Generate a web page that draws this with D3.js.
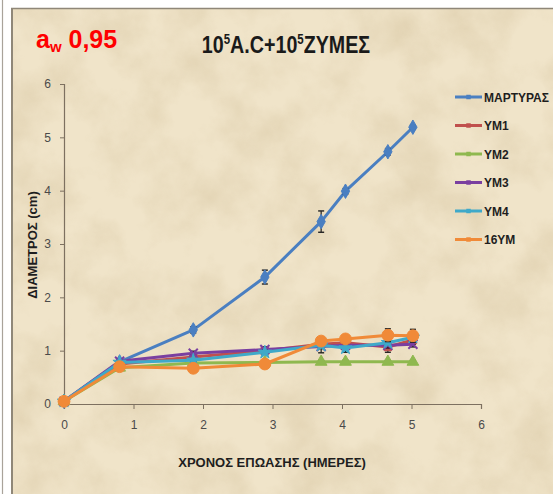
<!DOCTYPE html>
<html>
<head>
<meta charset="utf-8">
<script src="https://cdn.jsdelivr.net/npm/d3@7"></script>
<style>
  html, body { margin: 0; padding: 0; background: #fff; }
  svg { display: block; }
</style>
</head>
<body>
<svg id="chart" width="553" height="494"></svg>
<script>
// Incubation days at each measurement
const days = [0, 0.8, 1.86, 2.89, 3.7, 4.05, 4.66, 5.02];

// Colony diameter (cm) per treatment
const seriesNames = ["ΜΑΡΤΥΡΑΣ", "ΥΜ1", "ΥΜ2", "ΥΜ3", "ΥΜ4", "16ΥΜ"];
const martyras = [0.05, 0.79, 1.39, 2.38, 3.42, 3.99, 4.73, 5.19];
const ym1      = [0.05, 0.75, 0.88, 1.00, 1.12, 1.15, 1.07, 1.20];
const ym2      = [0.05, 0.68, 0.77, 0.78, 0.79, 0.79, 0.79, 0.79];
const ym3      = [0.05, 0.80, 0.95, 1.02, 1.08, 1.10, 1.10, 1.12];
const ym4      = [0.05, 0.78, 0.82, 0.97, 1.10, 1.05, 1.15, 1.25];
const ym16     = [0.05, 0.70, 0.67, 0.75, 1.18, 1.22, 1.29, 1.28];

// Standard error per point
const errMartyras = [0, 0.03, 0.06, 0.13, 0.20, 0.05, 0.06, 0.04];
const errYm1      = [0, 0.03, 0.03, 0.04, 0.05, 0.04, 0.10, 0.08];
const errYm2      = [0, 0.02, 0.02, 0.02, 0.03, 0.03, 0.03, 0.03];
const errYm3      = [0, 0.03, 0.04, 0.05, 0.12, 0.05, 0.05, 0.05];
const errYm4      = [0, 0.03, 0.03, 0.04, 0.06, 0.08, 0.05, 0.06];
const errYm16     = [0, 0.04, 0.03, 0.04, 0.05, 0.05, 0.12, 0.12];

const xTicks = [0, 1, 2, 3, 4, 5, 6];
const yTicks = [0, 1, 2, 3, 4, 5, 6];

const colors  = ["#4a7fc1", "#c0504d", "#8fb84f", "#7a3fa0", "#3fa9c9", "#f08a38"];
const markers = ["diamond", "square", "triangle", "cross", "star", "circle"];
const values  = [martyras, ym1, ym2, ym3, ym4, ym16];
const errors  = [errMartyras, errYm1, errYm2, errYm3, errYm4, errYm16];

const series = seriesNames.map((name, i) => ({
  name, color: colors[i], marker: markers[i],
  points: days.map((d, j) => ({ x: d, y: values[i][j], e: errors[i][j] }))
}));

const svg = d3.select("#chart");

// parchment background with soft mottling
const defs = svg.append("defs");
const f = defs.append("filter").attr("id", "parchment")
  .attr("x", 0).attr("y", 0).attr("width", "100%").attr("height", "100%");
f.append("feTurbulence").attr("type", "fractalNoise")
  .attr("baseFrequency", "0.018").attr("numOctaves", 5).attr("seed", 7).attr("result", "n");
f.append("feColorMatrix").attr("type", "matrix")
  .attr("values", "0 0 0 0 0.62  0 0 0 0 0.50  0 0 0 0 0.30  1.6 0 0 0 -0.62");

svg.append("rect").attr("x", 11).attr("y", 8).attr("width", 542).attr("height", 486)
  .attr("fill", "#f0e4c9");
svg.append("rect").attr("x", 11).attr("y", 8).attr("width", 542).attr("height", 486)
  .attr("filter", "url(#parchment)").attr("opacity", 0.5);

// frame edges
svg.append("line").attr("x1", 2.5).attr("x2", 2.5).attr("y1", 0).attr("y2", 494)
  .attr("stroke", "#a9a39a").attr("stroke-width", 1.2);
svg.append("line").attr("x1", 12).attr("x2", 12).attr("y1", 8).attr("y2", 494)
  .attr("stroke", "#8f8778").attr("stroke-width", 2);
svg.append("line").attr("x1", 11).attr("x2", 553).attr("y1", 8.5).attr("y2", 8.5)
  .attr("stroke", "#8f8778").attr("stroke-width", 1.5);

// scales
const x = d3.scaleLinear().domain([0, 6]).range([64, 481]);
const y = d3.scaleLinear().domain([0, 6]).range([404, 84]);

const axisColor = "#7d7060";
const tickFont = "Liberation Sans, Arial, sans-serif";

const xAxis = svg.append("g").attr("transform", "translate(0,404)")
  .call(d3.axisBottom(x).tickValues(xTicks).tickSize(5).tickPadding(11).tickFormat(d3.format("d")));
const yAxis = svg.append("g").attr("transform", "translate(64,0)")
  .call(d3.axisLeft(y).tickValues(yTicks).tickSize(4).tickPadding(9).tickFormat(d3.format("d")));
[xAxis, yAxis].forEach(g => {
  g.select(".domain").attr("stroke", axisColor).attr("stroke-width", 1.2);
  g.selectAll(".tick line").attr("stroke", axisColor);
  g.selectAll(".tick text").attr("fill", "#4a4a4a")
    .style("font-family", tickFont).style("font-size", "12px");
});

// line generator and marker shapes
const line = d3.line().x(d => x(d.x)).y(d => y(d.y));
const shapes = {
  diamond: d3.symbol(d3.symbolDiamond, 60),
  square: d3.symbol(d3.symbolSquare, 55),
  triangle: d3.symbol(d3.symbolTriangle, 60),
  cross: d3.symbol(d3.symbolTimes, 55),
  star: d3.symbol(d3.symbolStar, 55),
  circle: d3.symbol(d3.symbolCircle, 110)
};

const plot = svg.append("g");
series.forEach(s => {
  const g = plot.append("g");
  g.append("path").datum(s.points).attr("d", line)
    .attr("fill", "none").attr("stroke", s.color).attr("stroke-width", 3)
    .attr("stroke-linejoin", "round");
  // error bars
  const eb = g.selectAll(".eb").data(s.points.filter(p => p.e > 0)).join("g");
  eb.append("line").attr("x1", d => x(d.x)).attr("x2", d => x(d.x))
    .attr("y1", d => y(d.y - d.e)).attr("y2", d => y(d.y + d.e))
    .attr("stroke", "#222").attr("stroke-width", 1.2);
  eb.append("line").attr("x1", d => x(d.x) - 3).attr("x2", d => x(d.x) + 3)
    .attr("y1", d => y(d.y + d.e)).attr("y2", d => y(d.y + d.e))
    .attr("stroke", "#222").attr("stroke-width", 1.4);
  eb.append("line").attr("x1", d => x(d.x) - 3).attr("x2", d => x(d.x) + 3)
    .attr("y1", d => y(d.y - d.e)).attr("y2", d => y(d.y - d.e))
    .attr("stroke", "#222").attr("stroke-width", 1.4);
  const isStroke = s.marker === "cross";
  g.selectAll(".mk").data(s.points).join("path")
    .attr("transform", d => `translate(${x(d.x)},${y(d.y)})`)
    .attr("d", shapes[s.marker])
    .attr("fill", isStroke ? "none" : s.color)
    .attr("stroke", s.color).attr("stroke-width", isStroke ? 2 : 1);
});

// legend
const legend = svg.append("g");
series.forEach((s, i) => {
  const ly = 97 + i * 28.5;
  legend.append("line").attr("x1", 455).attr("x2", 482).attr("y1", ly).attr("y2", ly)
    .attr("stroke", s.color).attr("stroke-width", 3);
  legend.append("path").attr("transform", `translate(468.5,${ly})`)
    .attr("d", d3.symbol(d3.symbolSquare, 20)).attr("fill", s.color);
  legend.append("text").attr("x", 484).attr("y", ly + 4.5).text(s.name)
    .attr("fill", "#1e1e1e")
    .style("font-family", "Liberation Sans Narrow, Arial Narrow, sans-serif")
    .style("font-weight", "bold").style("font-size", "12px");
});

// title, horizontally condensed
const title = svg.append("text").attr("transform", "translate(286,53) scale(0.82,1)")
  .attr("text-anchor", "middle")
  .attr("fill", "#1a1a1a")
  .style("font-family", "Liberation Sans, Arial, sans-serif")
  .style("font-weight", "bold").style("font-size", "24px");
title.append("tspan").text("10");
title.append("tspan").text("5").attr("dy", -9).style("font-size", "14px");
title.append("tspan").text("A.C+10").attr("dy", 9);
title.append("tspan").text("5").attr("dy", -9).style("font-size", "14px");
title.append("tspan").text("ΖΥΜΕΣ").attr("dy", 9);

// water activity label
const aw = svg.append("text").attr("x", 36).attr("y", 48).attr("fill", "#ff0000")
  .style("font-family", "Liberation Sans, Arial, sans-serif")
  .style("font-weight", "bold").style("font-size", "25px");
aw.append("tspan").text("a");
aw.append("tspan").text("w").attr("dy", 4).style("font-size", "15px");
aw.append("tspan").text(" 0,95").attr("dy", -4);

// axis titles
svg.append("text").attr("x", 272).attr("y", 467).attr("text-anchor", "middle")
  .text("ΧΡΟΝΟΣ ΕΠΩΑΣΗΣ (ΗΜΕΡΕΣ)").attr("fill", "#1e1e1e")
  .style("font-family", "Liberation Sans Narrow, Arial Narrow, sans-serif")
  .style("font-weight", "bold").style("font-size", "13px");
svg.append("text").attr("transform", "translate(37,245) rotate(-90)").attr("text-anchor", "middle")
  .text("ΔΙΑΜΕΤΡΟΣ (cm)").attr("fill", "#1e1e1e")
  .style("font-family", "Liberation Sans, Arial, sans-serif")
  .style("font-weight", "bold").style("font-size", "13px");
</script>
</body>
</html>
